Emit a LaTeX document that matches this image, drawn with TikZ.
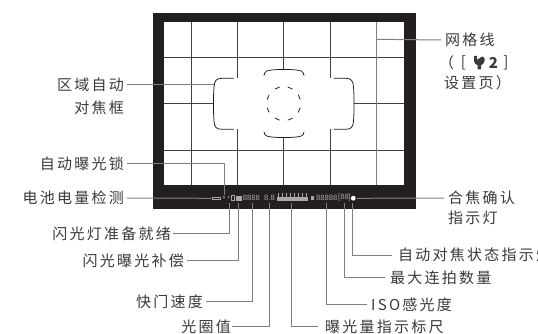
\documentclass[tikz,border=0pt]{standalone}
\usepackage{fontspec}
\setmainfont{Noto Sans CJK SC}[LetterSpace=15]
\newfontfamily\digitfont{Liberation Sans}
\tikzset{
  lab/.style={inner sep=0pt,text=labelgray,font=\fontsize{15}{17}\selectfont},
  labR/.style={lab,anchor=east},
  labL/.style={lab,anchor=west},
  leader/.style={draw=leadergray,line width=1pt},
  gridline/.style={draw=gridgray,line width=0.8pt},
  afline/.style={draw=black!90,line width=0.75pt,line cap=round},
  readout/.style={inner sep=0pt,text=readgray,font=\digitfont\fontsize{7.6}{8}\selectfont},
  barmark/.style={draw=readgray,line width=0.5pt}
}
\definecolor{labelgray}{HTML}{3A3A3A}
\definecolor{leadergray}{HTML}{7F7F7F}
\definecolor{gridgray}{HTML}{404040}
\definecolor{readgray}{HTML}{A8A8A8}
\definecolor{framegray}{HTML}{231F20}
\begin{document}
\begin{tikzpicture}[x=1pt,y=-1pt]
\useasboundingbox (0,0) rectangle (538,334);
% frame
\fill[framegray] (152.5,12.7) rectangle (415.7,209);
\fill[white] (163.5,22) rectangle (404,185);
% grid
\draw[gridline] (191.7,22) -- (191.7,185);
\draw[gridline] (237.7,22) -- (237.7,78.3) (237.7,129.3) -- (237.7,185);
\draw[gridline] (283.7,22) -- (283.7,69.3) (283.7,137.3) -- (283.7,185);
\draw[gridline] (330,22) -- (330,78.3) (330,129.3) -- (330,185);
\draw[gridline] (163.5,57.3) -- (404,57.3);
\draw[gridline] (163.5,103.7) -- (213.3,103.7) (354,103.7) -- (404,103.7);
\draw[gridline] (163.5,150.3) -- (404,150.3);
% AF frame
\draw[afline] (233.5,78.3) -- (222,78.3) .. controls (216,78.3) and (214.5,81) .. (214,87) .. controls (213.2,98) and (213.2,110) .. (214,121) .. controls (214.5,127) and (216,129.3) .. (222,129.3) -- (233.5,129.3);
\draw[afline] (334,78.3) -- (345.5,78.3) .. controls (351.5,78.3) and (353,81) .. (353.5,87) .. controls (354.3,98) and (354.3,110) .. (353.5,121) .. controls (353,127) and (351.5,129.3) .. (345.5,129.3) -- (334,129.3);
\draw[afline] (264,75.5) .. controls (264.5,71) and (267,70.5) .. (272,70) .. controls (280,69.2) and (288,69.2) .. (296,70) .. controls (301,70.5) and (303.5,71) .. (304,75.5);
\draw[afline] (264,132) .. controls (264.5,136) and (267,136.5) .. (272,137) .. controls (280,137.8) and (288,137.8) .. (296,137) .. controls (301,136.5) and (303.5,136) .. (304,132);
\foreach \a in {22.5,67.5,112.5,157.5,202.5,247.5,292.5,337.5}
  \draw[afline,shift={(283.7,103.6)}] (\a-8:17) arc[start angle=\a-8,end angle=\a+8,radius=17];
% info bar readouts
\draw[barmark] (212,196.8) rectangle (220,199.3);
\node[readout] (star) at (224,198.6) {*};
\node[readout] (bolt) at (228.5,198) {\fontsize{6}{6}\selectfont+};
\draw[barmark] (231.2,195.5) rectangle (234.5,200.5);
\fill[readgray] (236,195.5) rectangle (241.5,200.5);
\node[readout] (shut) at (251.3,198) {8888};
\node[readout] (aper) at (269.5,198) {8.8};
\foreach \i in {0,...,7} \draw[barmark] (278+\i*4,196.5) -- (278+\i*4,193.3);
\fill[readgray] (277,197.4) rectangle (308,200.5);
\node[readout] (isoval) at (326.7,198) {88888};
\node[readout] (maxb) at (344.5,198) {[88]};
\fill[readgray] (311,196) rectangle (314,200);
\fill[white] (353.3,198.2) circle (2.4);
% leader coordinates
\coordinate (ptGrid) at (376,39.3);
\coordinate (ptAF) at (213.5,85);
\coordinate (ptAE) at (224,195);
\coordinate (ptBat) at (211.7,198.3);
\coordinate (ptFlash) at (229.3,202.5);
\coordinate (ptFEC) at (238,202.5);
\coordinate (ptShut) at (252,202.5);
\coordinate (ptAper) at (269,202.5);
\coordinate (ptMeter) at (291.7,202.5);
\coordinate (ptISO) at (326,202.5);
\coordinate (ptMax) at (344,202.5);
\coordinate (ptAFst) at (352.7,202.5);
\coordinate (ptConf) at (357,198.3);
% grid line that carries a leader
\draw[leader] (376,22) -- (376,185);
% labels
\node[labR] (a1) at (124,85) {区域自动};
\node[labR] (a2) at (124,107.5) {对焦框};
\node[labR] (b) at (124,163.7) {自动曝光锁};
\node[labR] (c) at (124,198) {电池电量检测};
\node[labR] (d) at (171,233.5) {闪光灯准备就绪};
\node[labR] (e) at (184,260.5) {闪光曝光补偿};
\node[labR] (f) at (203,301.5) {快门速度};
\node[labR] (g) at (231,326.7) {光圈值};
\node[labL] (h) at (325,326.7) {曝光量指示标尺};
\node[labL] (i) at (371,304.3) {ISO感光度};
\node[labL] (j) at (390,277.7) {最大连拍数量};
\node[labL] (k) at (398,255) {自动对焦状态指示灯};
\node[labL] (l1) at (448,198) {合焦确认};
\node[labL] (l2) at (448,218) {指示灯};
\node[labL] (m1) at (445,40) {网格线};
\node[labL] (m2) at (439,62.5) {（};
\node[lab] (m3) at (463.5,62.5) {[};
\node[lab] (m4) at (493.5,62.5) {\bfseries 2};
\node[lab] (m5) at (506,62.5) {]};
\node[labL] (m6) at (444,83) {设置页）};
% wrench icon
\fill[labelgray] (474,56) -- (477,56) -- (477,60) -- (482,56.5) -- (484.5,58) -- (484.5,61) .. controls (484.5,63.5) and (482,65) .. (481,65) -- (481,69.5) -- (477.5,69.5) -- (477.5,65) .. controls (476,65) and (474,63.5) .. (474,61) -- cycle;
% connectors
\draw[leader] ([xshift=3pt]a1.east) -- (ptAF);
\draw[leader] ([xshift=3pt]b.east) -| (ptAE);
\draw[leader] ([xshift=3pt]c.east) -- (ptBat);
\draw[leader] ([xshift=2pt]d.east) -| (ptFlash);
\draw[leader] ([xshift=3pt]e.east) -| (ptFEC);
\draw[leader] ([xshift=3pt]f.east) -| (ptShut);
\draw[leader] ([xshift=1pt]g.east) -| (ptAper);
\draw[leader] ([xshift=-7pt]h.west) -| (ptMeter);
\draw[leader] ([xshift=-4pt]i.west) -| (ptISO);
\draw[leader] ([xshift=-5pt]j.west) -| (ptMax);
\draw[leader] ([xshift=-6pt]k.west) -| (ptAFst);
\draw[leader] ([xshift=-4pt]l1.west) -- (ptConf);
\draw[leader] ([xshift=-4pt]m1.west) -- (ptGrid);
\end{tikzpicture}
\end{document}
